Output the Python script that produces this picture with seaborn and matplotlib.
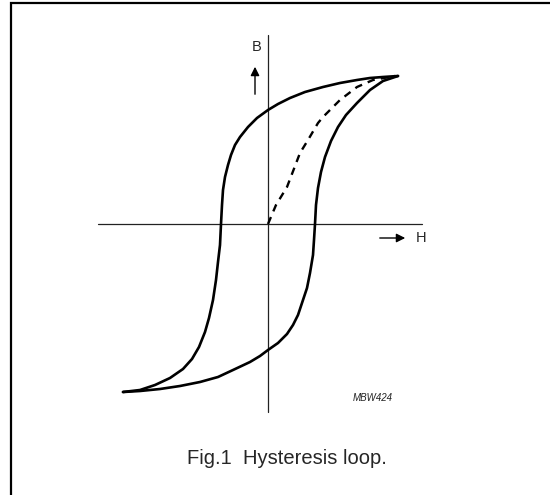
"""
Hysteresis loop (Fig.1) — 复刻参考图
"""
import numpy as np
import pandas as pd
import matplotlib
matplotlib.use('Agg')
import matplotlib.pyplot as plt
import seaborn as sns

# ==================== 数据（从图上读取，原点为坐标轴交点） ====================
# 上升支（从负饱和到正饱和）
up_H = [-145, -128, -108, -88, -68, -50, -35, -18, -8, 0, 10, 19, 25, 30, 35, 39,
        42, 45, 46, 47, 48, 50, 53, 57, 63, 70, 78, 89, 102, 115, 130]
up_B = [-168, -167, -165, -162, -158, -153, -146, -138, -132, -126, -119, -110, -101, -91, -76, -64,
        -49, -31, -16, 0, 19, 36, 52, 67, 83, 97, 109, 121, 134, 143, 148]

# 下降支（从正饱和到负饱和）
down_H = [130, 115, 102, 89, 72, 55, 37, 22, 10, 0, -11, -20, -28, -33, -37, -40, -43,
          -45, -46, -47, -48, -50, -52, -55, -59, -63, -69, -76, -85, -98, -113, -128, -145]
down_B = [148, 147, 146, 144, 141, 137, 132, 126, 120, 114, 106, 97, 87, 79, 69, 59, 47,
          34, 19, 0, -21, -38, -56, -76, -94, -108, -123, -135, -145, -154, -161, -166, -168]

# 初始磁化曲线（虚线）
init_H = [0, 8, 19, 32, 40, 50, 55, 72, 89, 105, 127]
init_B = [0, 19, 37, 71, 84, 101, 107, 124, 137, 144, 148]

df_up = pd.DataFrame({'H': up_H, 'B': up_B})
df_down = pd.DataFrame({'H': down_H, 'B': down_B})
df_init = pd.DataFrame({'H': init_H, 'B': init_B})

# ==================== 绘图 ====================
sns.set_style("white")
plt.rcParams['font.family'] = ['Liberation Sans', 'DejaVu Sans']

fig = plt.figure(figsize=(5.5, 4.95), dpi=100)
ax = fig.add_axes([0, 0, 1, 1])
ax.set_xlim(-268, 282)
ax.set_ylim(-271, 224)
ax.axis('off')

# 外框（只可见左边和上边）
ax.plot([-257, -257, 290], [-280, 221, 221], color='black', lw=1.6, solid_joinstyle='miter')

# 坐标轴
ax.plot([-170, 154], [0, 0], color='#222222', lw=0.9)
ax.plot([0, 0], [189, -188], color='#222222', lw=0.9)

# 曲线
line_kw = dict(sort=False, ax=ax, color='black', solid_joinstyle='round', solid_capstyle='round')
sns.lineplot(data=df_up, x='H', y='B', lw=1.9, **line_kw)
sns.lineplot(data=df_down, x='H', y='B', lw=1.9, **line_kw)
sns.lineplot(data=df_init, x='H', y='B', sort=False, ax=ax, color='black', lw=1.7,
             linestyle=(0, (3.2, 2.6)))

# 箭头与标签
ax.annotate('', xy=(-13, 160), xytext=(-13, 127),
            arrowprops=dict(arrowstyle='-|>', color='black', lw=1.0, mutation_scale=13))
ax.annotate('', xy=(140, -14), xytext=(109, -14),
            arrowprops=dict(arrowstyle='-|>', color='black', lw=1.0, mutation_scale=13))
ax.text(-11, 177, 'B', fontsize=10.5, ha='center', va='center')
ax.text(153, -14, 'H', fontsize=10.5, ha='center', va='center')
ax.text(105, -174, 'MBW424', fontsize=7, style='italic', ha='center', va='center', color='#222222')
ax.text(19, -235, 'Fig.1  Hysteresis loop.', fontsize=14.5, ha='center', va='center')

fig.savefig('out.png', dpi=100)
plt.close(fig)
